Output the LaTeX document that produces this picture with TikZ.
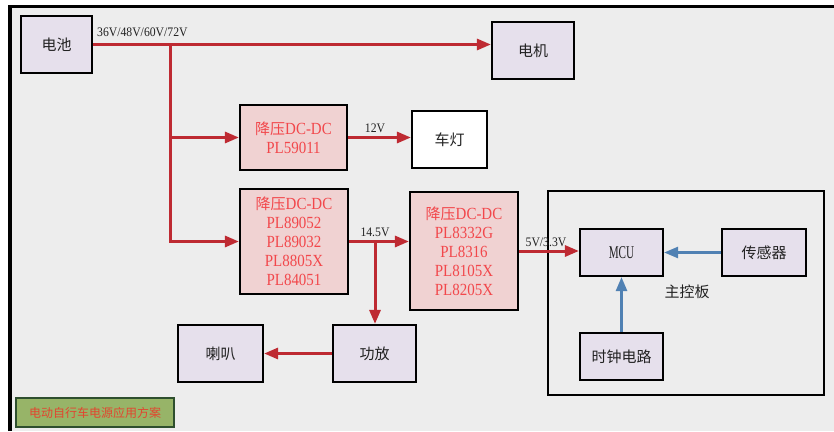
\documentclass[tikz,border=0pt]{standalone}
\usepackage{fontspec}
\setmainfont{Liberation Serif}
\newfontfamily\cjk{Noto Sans CJK SC}
\newfontfamily\lblfont[FakeStretch=0.9]{Liberation Serif}
\newfontfamily\dcfont[FakeStretch=0.88]{Liberation Serif}
\newfontfamily\mcufont[FakeStretch=0.62]{Liberation Serif}
\usetikzlibrary{arrows.meta}
\definecolor{bg}{HTML}{EDEDED}
\definecolor{lav}{HTML}{E6E0EC}
\definecolor{pinkf}{HTML}{F0D2D2}
\definecolor{redt}{HTML}{F2474B}
\definecolor{redl}{HTML}{BE2A32}
\definecolor{bluel}{HTML}{5081B3}
\definecolor{greenf}{HTML}{97B468}
\definecolor{greend}{HTML}{2E4F2E}
\definecolor{titlet}{HTML}{E2452F}
\definecolor{txt}{HTML}{222222}
\tikzset{
  box/.style={draw=black, line width=2.2pt, fill=lav, inner sep=0pt, text=txt,
    font=\cjk\fontsize{15}{18}\selectfont},
  dcbox/.style={draw=black, line width=2.2pt, fill=pinkf, inner sep=0pt, text=redt,
    align=center, font=\dcfont\fontsize{17}{19}\selectfont},
  redarrow/.style={draw=redl, line width=3pt, -{Triangle[length=14pt,width=11pt]}},
  bluearrow/.style={draw=bluel, line width=2.6pt, -{Triangle[length=14pt,width=11pt]}},
  lbl/.style={inner sep=0pt, text=txt, font=\lblfont\fontsize{13}{14}\selectfont},
}
\begin{document}
\begin{tikzpicture}[x=1pt,y=-1pt]
\useasboundingbox (0,0) rectangle (834,431);
\fill[white] (0,0) rectangle (834,431);
\fill[bg] (10,6.5) rectangle (834,431);
\draw[black, line width=3.5pt] (10,431) -- (10,6.5) -- (834,6.5);

% nodes
\node[box, minimum width=71pt, minimum height=57pt] (bat) at (56.5,44.5) {电池};
\node[box, minimum width=82pt, minimum height=57pt] (motor) at (533,50.5) {电机};
\node[dcbox, minimum width=107pt, minimum height=65pt] (dc1) at (293.5,137.5) {{\cjk\fontsize{15}{19}\selectfont 降压}DC-DC\\PL59011};
\node[box, fill=white, minimum width=75pt, minimum height=57pt] (light) at (449.5,139.5) {车灯};
\node[dcbox, minimum width=108pt, minimum height=105pt] (dc2) at (294,241.5) {{\cjk\fontsize{15}{19}\selectfont 降压}DC-DC\\PL89052\\PL89032\\PL8805X\\PL84051};
\node[dcbox, minimum width=108pt, minimum height=118pt] (dc3) at (464,251) {{\cjk\fontsize{15}{19}\selectfont 降压}DC-DC\\PL8332G\\PL8316\\PL8105X\\PL8205X};
\node[box, minimum width=83pt, minimum height=57pt] (amp) at (374.5,353.5) {功放};
\node[box, minimum width=85pt, minimum height=57pt] (spk) at (220.5,353.5) {喇叭};
\node[draw=black, line width=2.5pt, minimum width=276pt, minimum height=204pt, inner sep=0pt] (board) at (686,293) {};
\node[box, font=\mcufont\fontsize{18}{20}\selectfont, minimum width=83pt, minimum height=47pt] (mcu) at (621.5,252.5) {MCU};
\node[box, minimum width=84pt, minimum height=47pt] (sensor) at (764,252.5) {传感器};
\node[box, minimum width=83pt, minimum height=47pt] (clock) at (621.5,356.5) {时钟电路};
\node[inner sep=0pt, text=txt, font=\cjk\fontsize{15}{18}\selectfont] (boardlbl) at (687,292) {主控板};
\node[draw=greend, line width=2pt, fill=greenf, text=titlet, inner sep=0pt,
  minimum width=158pt, minimum height=29pt, font=\cjk\fontsize{12}{14}\selectfont] (title) at (95,412.5) {电动自行车电源应用方案};

% labels
\node[lbl, anchor=west] (l36) at (97,32) {36V/48V/60V/72V};
\node[lbl] (l12) at (375,128) {12V};
\node[lbl] (l145) at (375,232) {14.5V};
\node[lbl] (l5) at (546,242) {5V/3.3V};

% connectors
\coordinate (j1) at (170,44.5);
\coordinate (j2) at (375,241.5);
\draw[redarrow] (bat.east) -- (bat.east -| motor.west);
\draw[redarrow] (j1) |- (dc2.west);
\draw[redarrow] (j1 |- dc1.west) -- (dc1.west);
\draw[redarrow] (dc1.east) -- (dc1.east -| light.west);
\draw[redarrow] (dc2.east) -- (dc2.east -| dc3.west);
\draw[redarrow] (j2) -- (j2 |- amp.north);
\draw[redarrow] (amp.west) -- (spk.east);
\draw[redarrow] (dc3.east) -- (dc3.east -| mcu.west);
\draw[bluearrow] (sensor.west) -- (mcu.east);
\draw[bluearrow] (clock.north) -- (mcu.south);
\end{tikzpicture}
\end{document}
